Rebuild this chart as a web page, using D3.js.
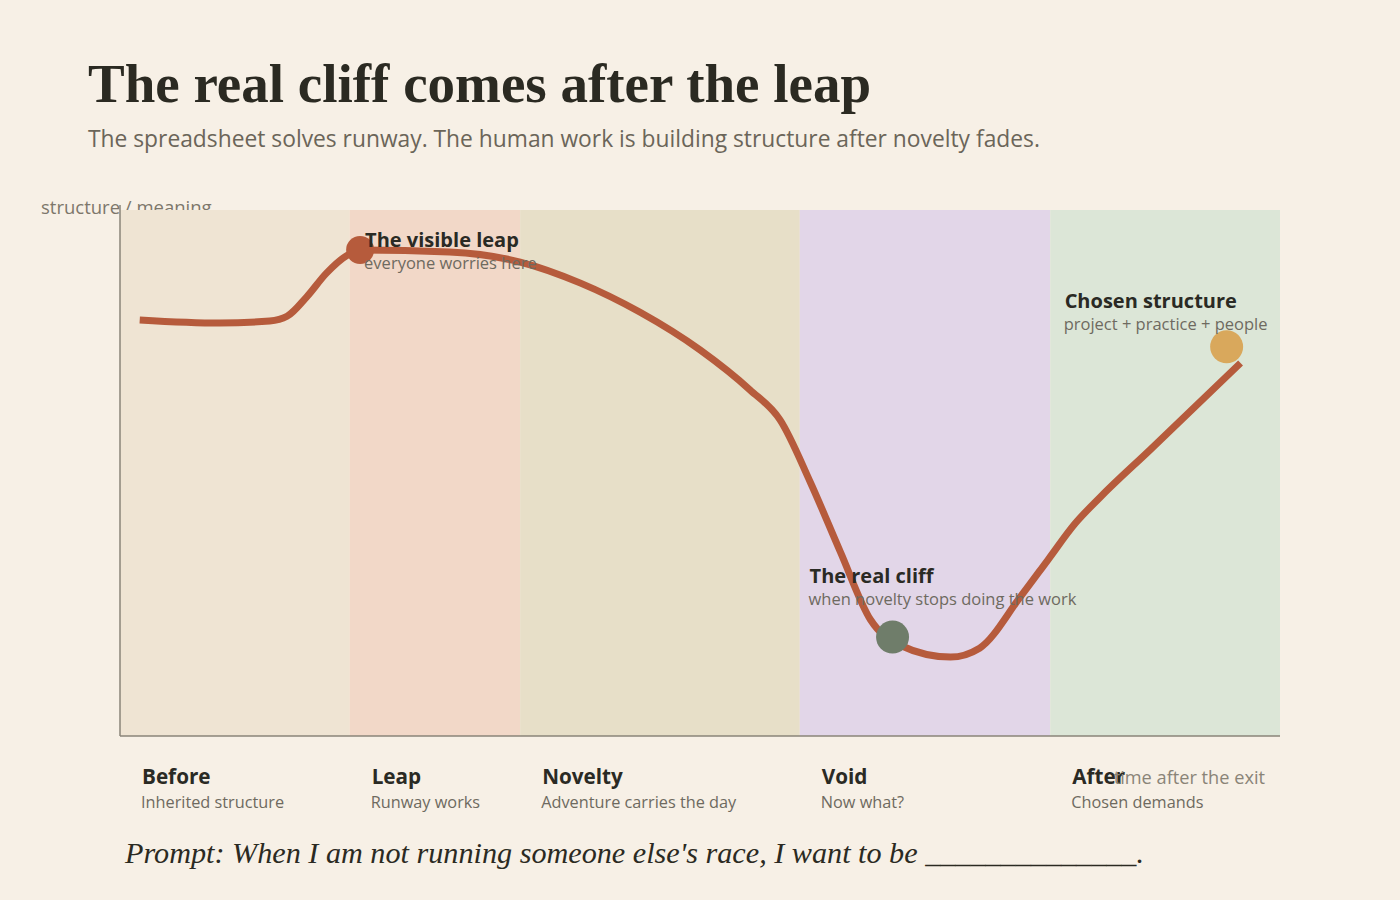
<!DOCTYPE html>
<html>
<head>
  <meta charset="utf-8">
  <script src="https://d3js.org/d3.v7.min.js"></script>
  <style>
    body { margin: 0; background: #f7f0e6; }
    svg { display: block; }
    .sans { font-family: "Segoe UI", "Open Sans", "Noto Sans", sans-serif; }
    .serif { font-family: Georgia, "Liberation Serif", "DejaVu Serif", serif; }
  </style>
</head>
<body>
<svg width="1400" height="900"></svg>
<script>
// phases along the bottom
var phases = ["Before", "Leap", "Novelty", "Void", "After"];
var phaseNotes = ["Inherited structure", "Runway works", "Adventure carries the day", "Now what?", "Chosen demands"];
var phaseBounds = [0, 1.98, 3.45, 5.86, 8.02, 10];
var phaseColors = ["#efe4d3", "#f2d8c8", "#e7dfc8", "#e2d6e8", "#dce6d7"];

// the curve (time, structure)
var curveT = [0.17, 0.86, 1.29, 1.44, 1.61, 1.78, 1.96, 2.07, 2.84, 3.45, 3.97, 4.48, 5.0, 5.43, 5.69, 5.95, 6.21, 6.47, 6.72, 7.16, 7.41, 7.76, 8.0, 8.23, 8.45, 8.88, 9.66];
var curveV = [7.91, 7.85, 7.89, 7.98, 8.35, 8.80, 9.14, 9.24, 9.20, 9.01, 8.61, 8.06, 7.34, 6.58, 6.01, 4.83, 3.50, 2.21, 1.73, 1.50, 1.67, 2.64, 3.35, 4.03, 4.54, 5.44, 7.09];

// highlighted moments
var markT = [2.07, 6.66, 9.54];
var markV = [9.24, 1.88, 7.40];
var markColors = ["#b65b3c", "#6f7d6a", "#d9a85c"];
var markR = [14, 16.5, 16.5];
var markTitles = ["The visible leap", "The real cliff", "Chosen structure"];
var markNotes = ["everyone worries here", "when novelty stops doing the work", "project + practice + people"];

var svg = d3.select("svg");
var x = d3.scaleLinear().domain([0, 10]).range([120, 1280]);
var y = d3.scaleLinear().domain([0, 10]).range([736, 210]);

svg.append("rect").attr("width", 1400).attr("height", 900).attr("fill", "#f7f0e6");

// title + subtitle
svg.append("text").attr("class", "serif")
  .attr("x", 88).attr("y", 102)
  .attr("font-size", 55).attr("font-weight", "bold").attr("fill", "#2b2a22")
  .text("The real cliff comes after the leap");
svg.append("text").attr("class", "sans")
  .attr("x", 88).attr("y", 147)
  .attr("font-size", 22.8).attr("fill", "#6b6559")
  .text("The spreadsheet solves runway. The human work is building structure after novelty fades.");

// y label (sits under the bands)
svg.append("text").attr("class", "sans")
  .attr("x", 41).attr("y", 214)
  .attr("font-size", 18.5).attr("fill", "#7d776b")
  .text("structure / meaning");

// bands
svg.append("g").selectAll("rect")
  .data(phases)
  .join("rect")
    .attr("x", function(d, i) { return x(phaseBounds[i]); })
    .attr("y", y(10))
    .attr("width", function(d, i) { return x(phaseBounds[i + 1]) - x(phaseBounds[i]); })
    .attr("height", y(0) - y(10))
    .attr("fill", function(d, i) { return phaseColors[i]; });

// axes lines
svg.append("line")
  .attr("x1", x(0)).attr("x2", x(0)).attr("y1", y(10) - 5).attr("y2", y(0))
  .attr("stroke", "#8a8478").attr("stroke-width", 1.5);
svg.append("line")
  .attr("x1", x(0)).attr("x2", x(10)).attr("y1", y(0)).attr("y2", y(0))
  .attr("stroke", "#8a8478").attr("stroke-width", 1.5);

// phase labels
var lab = svg.append("g").attr("class", "sans");
lab.selectAll(".pname")
  .data(phases)
  .join("text")
    .attr("class", "pname")
    .attr("x", function(d, i) { return x(phaseBounds[i]) + 22; })
    .attr("y", 784)
    .attr("font-size", 20.7).attr("font-weight", "bold").attr("fill", "#2a2a24")
    .text(function(d) { return d; });
lab.selectAll(".pnote")
  .data(phaseNotes)
  .join("text")
    .attr("class", "pnote")
    .attr("x", function(d, i) { return x(phaseBounds[i]) + 21; })
    .attr("y", 808)
    .attr("font-size", 16.3).attr("fill", "#6e6a60")
    .text(function(d) { return d; });

// x label (overlaps "After" like the original)
svg.append("text").attr("class", "sans")
  .attr("x", 1265).attr("y", 784)
  .attr("text-anchor", "end")
  .attr("font-size", 18.2).attr("fill", "#8a8478")
  .text("time after the exit");

// the line
var pts = curveT.map(function(t, i) { return [t, curveV[i]]; });
var line = d3.line()
  .x(function(d) { return x(d[0]); })
  .y(function(d) { return y(d[1]); })
  .curve(d3.curveMonotoneX);

svg.append("path")
  .datum(pts)
  .attr("d", line)
  .attr("fill", "none")
  .attr("stroke", "#b65b3c")
  .attr("stroke-width", 7)
  .attr("stroke-linecap", "butt");

// markers
svg.append("g").selectAll("circle")
  .data(markT)
  .join("circle")
    .attr("cx", function(d) { return x(d); })
    .attr("cy", function(d, i) { return y(markV[i]); })
    .attr("r", function(d, i) { return markR[i]; })
    .attr("fill", function(d, i) { return markColors[i]; });

// annotations
var offs = [[5, -3], [-83, -54], [-162, -39]];
var ann = svg.append("g").attr("class", "sans");
markTitles.forEach(function(t, i) {
  var ax = x(markT[i]) + offs[i][0], ay = y(markV[i]) + offs[i][1];
  ann.append("text")
    .attr("x", ax).attr("y", ay)
    .attr("font-size", 20).attr("font-weight", "bold").attr("fill", "#2a2a24")
    .text(t);
  ann.append("text")
    .attr("x", ax - 1).attr("y", ay + 22)
    .attr("font-size", 16.5).attr("fill", "#6e6a60")
    .text(markNotes[i]);
});

// prompt
svg.append("text").attr("class", "serif")
  .attr("x", 125).attr("y", 863)
  .attr("font-size", 30.2).attr("font-style", "italic").attr("fill", "#2b2a22")
  .text("Prompt: When I am not running someone else's race, I want to be ______________.");
</script>
</body>
</html>
